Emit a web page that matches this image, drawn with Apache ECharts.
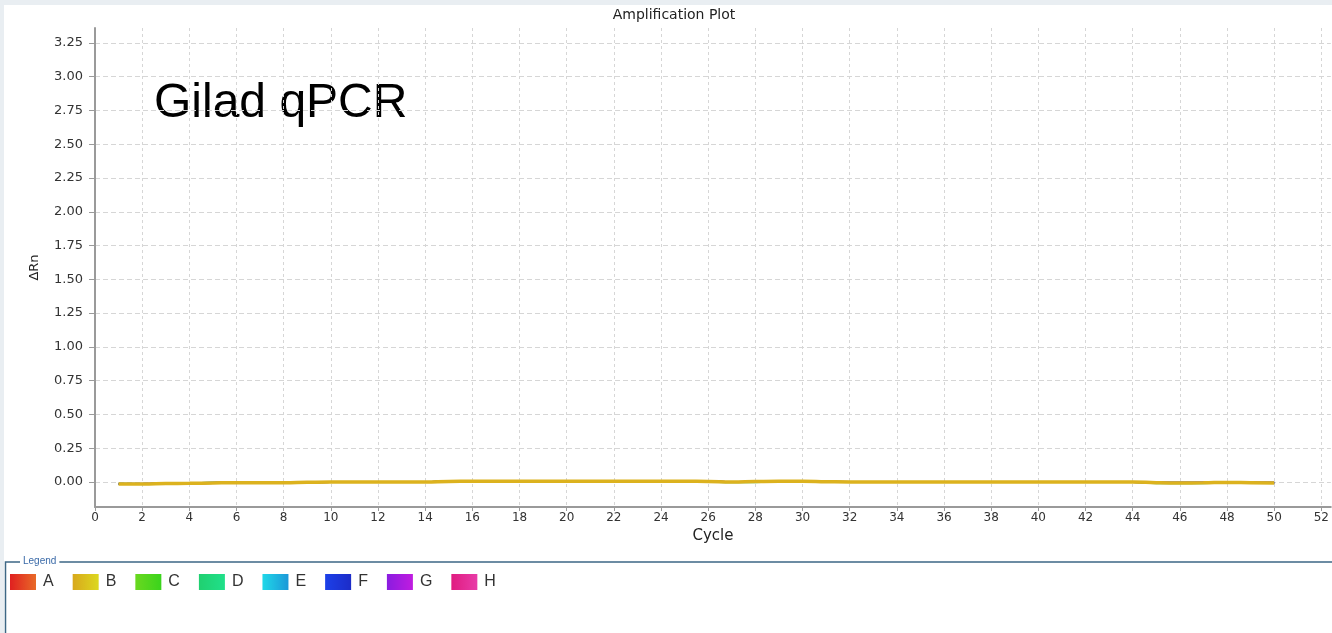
<!DOCTYPE html>
<html>
<head>
<meta charset="utf-8">
<script src="https://cdn.jsdelivr.net/npm/echarts@6/dist/echarts.min.js"></script>
<style>
  html, body { margin: 0; padding: 0; background: #e9eef2; }
  #chart { position: absolute; left: 4px; top: 5px; width: 1328px; height: 628px; background: #ffffff; }
</style>
</head>
<body>
<div id="chart"></div>
<script>
// Cycle numbers and ΔRn per well row (A–H)
const cycles = [1,2,3,4,5,6,7,8,9,10,11,12,13,14,15,16,17,18,19,20,21,22,23,24,25,26,27,28,29,30,31,32,33,34,35,36,37,38,39,40,41,42,43,44,45,46,47,48,49,50];
const rowA = [-0.014,-0.014,-0.012,-0.010,-0.007,-0.005,-0.005,-0.004,-0.002,0,0,0,0,0,0.003,0.004,0.004,0.005,0.005,0.004,0.004,0.005,0.005,0.004,0.004,0.004,0.000,0.002,0.004,0.004,0.002,0,0,0,0,0,0,0,0,0,0,0,0,0,-0.005,-0.006,-0.006,-0.003,-0.005,-0.006];
const rowB = [-0.015,-0.015,-0.012,-0.010,-0.007,-0.005,-0.005,-0.005,-0.002,0,0,0,0,0,0.004,0.005,0.005,0.005,0.005,0.005,0.005,0.005,0.005,0.005,0.005,0.004,0.000,0.003,0.005,0.005,0.002,0,0,0,0,0,0,0,0,0,0,0,0,0,-0.005,-0.007,-0.006,-0.003,-0.005,-0.007];
const rowC = [-0.013,-0.014,-0.011,-0.009,-0.006,-0.004,-0.005,-0.004,-0.001,0,0,0,0,0,0.003,0.004,0.005,0.004,0.005,0.005,0.004,0.005,0.004,0.005,0.004,0.003,0.000,0.002,0.004,0.004,0.001,0,0,0,0,0,0,0,0,0,0,0,0,0,-0.004,-0.006,-0.005,-0.003,-0.004,-0.006];
const rowD = [-0.015,-0.014,-0.012,-0.010,-0.007,-0.005,-0.005,-0.005,-0.002,0,0,0,0,0,0.003,0.005,0.005,0.005,0.005,0.005,0.005,0.005,0.005,0.005,0.004,0.002,-0.002,-0.001,0.003,0.004,0.001,0,0,0,0,0,0,0,0,0,0,0,0,0,-0.009,-0.010,-0.009,-0.004,-0.006,-0.007];
const rowE = [-0.014,-0.015,-0.012,-0.010,-0.006,-0.005,-0.004,-0.004,-0.002,0,0,0,0,0,0.004,0.004,0.005,0.005,0.004,0.005,0.005,0.004,0.005,0.005,0.004,0.004,0.000,0.002,0.004,0.005,0.002,0,0,0,0,0,0,0,0,0,0,0,0,0,-0.005,-0.006,-0.006,-0.003,-0.005,-0.006];
const rowF = [-0.013,-0.013,-0.011,-0.009,-0.006,-0.004,-0.004,-0.004,-0.001,0,0,0,0,0,0.003,0.004,0.004,0.004,0.004,0.004,0.004,0.004,0.004,0.004,0.004,0.003,0.000,0.002,0.003,0.004,0.001,0,0,0,0,0,0,0,0,0,0,0,0,0,-0.004,-0.005,-0.005,-0.002,-0.004,-0.005];
const rowG = [-0.014,-0.014,-0.012,-0.009,-0.007,-0.005,-0.005,-0.004,-0.002,0,0,0,0,0,0.003,0.004,0.005,0.005,0.005,0.005,0.005,0.005,0.004,0.004,0.004,0.004,0.000,0.002,0.004,0.004,0.002,0,0,0,0,0,0,0,0,0,0,0,0,0,-0.005,-0.006,-0.005,-0.003,-0.005,-0.006];
const rowH = [-0.015,-0.014,-0.012,-0.010,-0.007,-0.005,-0.005,-0.005,-0.002,0,0,0,0,0,0.004,0.005,0.005,0.005,0.005,0.005,0.005,0.005,0.005,0.005,0.005,0.004,0.000,0.003,0.005,0.005,0.002,0,0,0,0,0,0,0,0,0,0,0,0,0,-0.005,-0.007,-0.006,-0.003,-0.005,-0.007];

const rowNames = ['A','B','C','D','E','F','G','H'];
const yTicks = [0,0.25,0.5,0.75,1,1.25,1.5,1.75,2,2.25,2.5,2.75,3,3.25];
const xTicks = [0,2,4,6,8,10,12,14,16,18,20,22,24,26,28,30,32,34,36,38,40,42,44,46,48,50,52];

const lineColors = { A:'#e2401f', B:'#dcb21e', C:'#58d422', D:'#3ccf86', E:'#1fb8e0', F:'#1f3ee0', G:'#a022e0', H:'#e0228c' };
const swatch = {
  A: ['#e02020', '#e86a28'], B: ['#d8a81c', '#dcd820'], C: ['#6ad820', '#3ad41c'], D: ['#20d070', '#20e08a'],
  E: ['#20d8e8', '#1c98d8'], F: ['#1c40e8', '#1c2cc8'], G: ['#8a1ce0', '#c01ce0'], H: ['#e01c80', '#e83ca8']
};
const rows = { A: rowA, B: rowB, C: rowC, D: rowD, E: rowE, F: rowF, G: rowG, H: rowH };

function pairs(vals) { return cycles.map((c, i) => [c, vals[i]]); }

// Row B is drawn last so it sits on top of the other traces
const drawOrder = ['A','C','E','F','G','H','D','B'];
const series = drawOrder.map(n => ({
  name: n,
  type: 'line',
  data: pairs(rows[n]),
  showSymbol: false,
  smooth: true,
  lineStyle: { color: lineColors[n], width: n === 'B' ? 3.5 : 2 },
  itemStyle: { color: lineColors[n] },
  z: n === 'B' ? 5 : 3,
  animation: false
}));

const chart = echarts.init(document.getElementById('chart'), null, { renderer: 'canvas' });
const tickFont = { fontFamily: 'DejaVu Sans', fontSize: 13, color: '#333333' };

chart.setOption({
  animation: false,
  grid: { left: 91, top: 23, right: 0, bottom: 126 },
  xAxis: {
    type: 'value',
    min: 0, max: 52.4,
    name: 'Cycle',
    nameLocation: 'middle',
    nameGap: 22,
    nameTextStyle: { fontFamily: 'DejaVu Sans', fontSize: 15, color: '#222222', verticalAlign: 'top' },
    axisLine: { show: true, onZero: false, lineStyle: { color: '#9a9a9a', width: 2 } },
    axisTick: { show: true, length: 4, lineStyle: { color: '#9a9a9a' }, customValues: xTicks },
    axisLabel: { ...tickFont, fontSize: 12, margin: 5, customValues: xTicks },
    splitLine: { show: true, lineStyle: { color: '#d6d6d6', type: [3, 3], width: 1 } }
  },
  yAxis: {
    type: 'value',
    min: -0.185, max: 3.36,
    name: 'ΔRn',
    nameLocation: 'middle',
    nameGap: 54,
    nameRotate: 90,
    nameTextStyle: { fontFamily: 'DejaVu Sans', fontSize: 13, color: '#222222' },
    axisLine: { show: true, onZero: false, lineStyle: { color: '#9a9a9a', width: 2 } },
    axisTick: { show: true, length: 6, lineStyle: { color: '#9a9a9a' }, customValues: yTicks },
    axisLabel: { ...tickFont, margin: 12, customValues: yTicks, formatter: v => v.toFixed(2) },
    splitLine: { show: true, lineStyle: { color: '#d6d6d6', type: [5, 3], width: 1 } }
  },
  legend: {
    left: 6, top: 569,
    padding: 0,
    orient: 'horizontal',
    itemWidth: 26, itemHeight: 16,
    itemGap: 19,
    icon: 'rect',
    selectedMode: false,
    textStyle: { fontFamily: 'Liberation Sans', fontSize: 16, color: '#333333', padding: [0, 0, 0, 2] },
    data: rowNames.map(n => ({
      name: n,
      itemStyle: {
        color: new echarts.graphic.LinearGradient(0, 0, 1, 0, [
          { offset: 0, color: swatch[n][0] }, { offset: 1, color: swatch[n][1] }
        ])
      }
    }))
  },
  graphic: [
    {
      type: 'text', x: 670, y: 10,
      style: { text: 'Amplification Plot', font: '14px "DejaVu Sans"', fill: '#222222', textAlign: 'center', textVerticalAlign: 'middle' }
    },
    {
      type: 'text', x: 150, y: 99,
      style: { text: 'Gilad qPCR', font: '48px "Liberation Sans"', fill: '#000000', textVerticalAlign: 'middle' }
    },
    {
      type: 'rect', z: 1,
      shape: { x: 1.5, y: 557, width: 1400, height: 100 },
      style: { fill: 'none', stroke: '#3d6785', lineWidth: 1.5 }
    },
    {
      type: 'text', x: 16, y: 556, z: 2,
      style: { text: 'Legend', font: '10px "Liberation Sans"', fill: '#3a6aa8', backgroundColor: '#ffffff', padding: [0, 3, 0, 3], textVerticalAlign: 'middle' }
    }
  ],
  series: series
});
</script>
</body>
</html>
